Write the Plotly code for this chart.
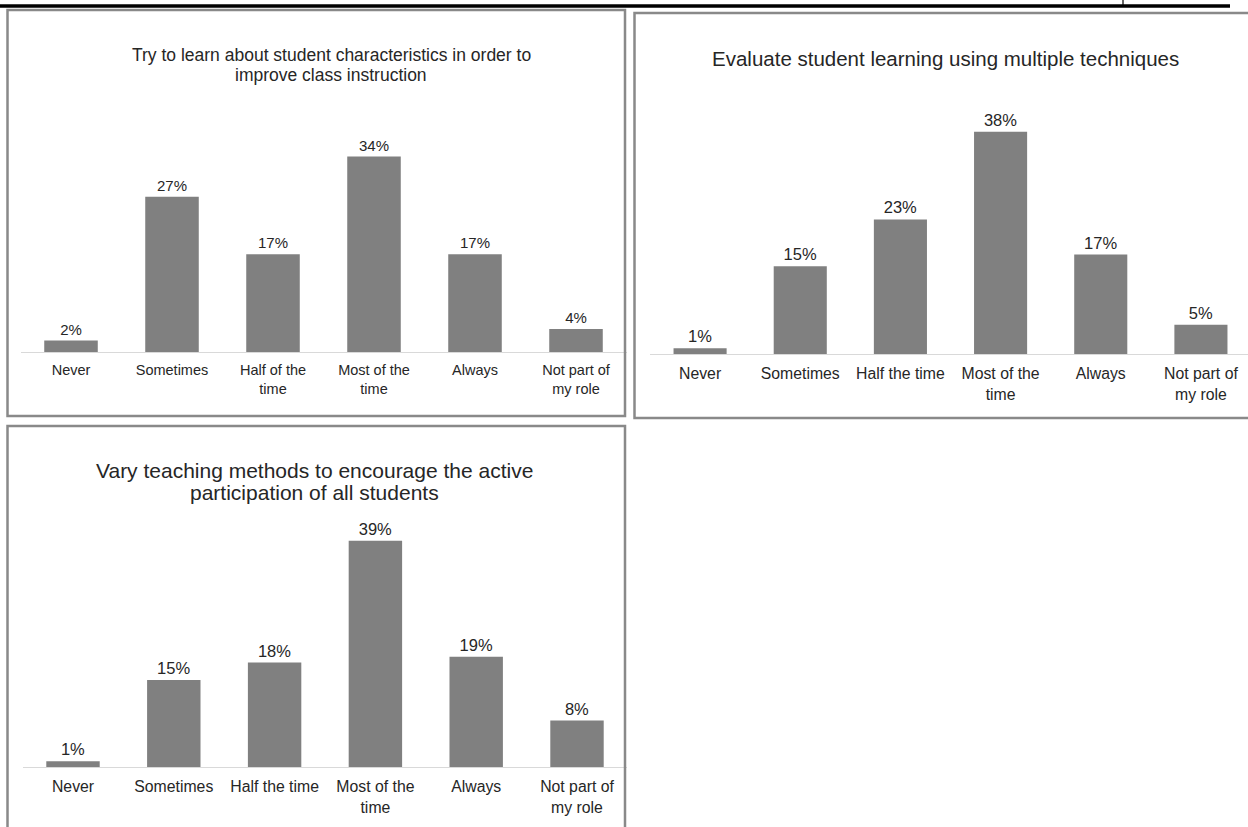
import plotly.graph_objects as go

W, H = 1248, 827
FONT = "Liberation Sans, Arial, sans-serif"

# ---- data ----
cats1 = ["Never", "Sometimes", "Half of the<br>time", "Most of the<br>time", "Always", "Not part of<br>my role"]
vals1 = [2, 27, 17, 34, 17, 4]
title1 = ["Try to learn about student characteristics in order to", "improve class instruction"]

cats2 = ["Never", "Sometimes", "Half the time", "Most of the<br>time", "Always", "Not part of<br>my role"]
vals2 = [1, 15, 23, 38, 17, 5]
title2 = ["Evaluate student learning using multiple techniques"]

cats3 = ["Never", "Sometimes", "Half the time", "Most of the<br>time", "Always", "Not part of<br>my role"]
vals3 = [1, 15, 18, 39, 19, 8]
title3 = ["Vary teaching methods to encourage the active", "participation of all students"]

BAR = "#808080"
TXT = "#262626"


def px_x(x):
    return x / W


def px_y(y):
    return 1 - y / H


fig = go.Figure()

panels = [
    dict(c=cats1, v=vals1, t=title1, x0=20.5, x1=626.5, xhi=5.5, base=352, top=122,
         ty=[55, 75], tf=14.5, lf=15, tif=17.5, tx=331, sd=5),
    dict(c=cats2, v=vals2, t=title2, x0=650, x1=1248, xhi=5.47, base=354, top=120,
         ty=[58], tf=15.8, lf=16.5, tif=20.5, tx=945, sd=5),
    dict(c=cats3, v=vals3, t=title3, x0=22.6, x1=627.4, xhi=5.5, base=767, top=535,
         ty=[470, 492], tf=15.8, lf=16.5, tif=21, tx=314, sd=5),
]

for i, p in enumerate(panels, start=1):
    xa = "x" if i == 1 else f"x{i}"
    ya = "y" if i == 1 else f"y{i}"
    fig.add_trace(go.Bar(
        x=p["c"], y=p["v"], xaxis=xa, yaxis=ya,
        marker=dict(color=BAR, line=dict(width=0)),
        width=0.53,
        texttemplate="%{y}%", textposition="outside", cliponaxis=False,
        constraintext="none",
        textfont=dict(family=FONT, size=p["lf"], color=TXT),
        hoverinfo="skip", showlegend=False,
    ))
    sfx = "" if i == 1 else str(i)
    fig.update_layout(**{
        f"xaxis{sfx}": dict(
            domain=[px_x(p["x0"]), px_x(p["x1"])], anchor=ya,
            type="category", range=[-0.5, p["xhi"]],
            showline=True, linecolor="#d9d9d9", linewidth=1,
            showgrid=False, zeroline=False, ticks="",
            tickfont=dict(family=FONT, size=p["tf"], color=TXT),
            ticklabelstandoff=p["sd"], fixedrange=True,
        ),
        f"yaxis{sfx}": dict(
            domain=[px_y(p["base"]), px_y(p["top"])], anchor=xa,
            range=[0, 40], visible=False, showgrid=False, fixedrange=True,
        ),
    })
    for line, yy in zip(p["t"], p["ty"]):
        fig.add_annotation(
            text=line, xref="paper", yref="paper", x=px_x(p["tx"]), y=px_y(yy),
            xanchor="center", yanchor="middle", showarrow=False,
            font=dict(family=FONT, size=p["tif"], color=TXT), align="center",
        )

# panel borders
BORDER = "#898989"
for (x0, y0, x1, y1) in [(7.5, 10, 625, 416), (634.5, 13, 1252, 418), (7.5, 426, 625, 832)]:
    fig.add_shape(type="rect", xref="paper", yref="paper",
                  x0=px_x(x0), x1=px_x(x1), y0=px_y(y1), y1=px_y(y0),
                  line=dict(color=BORDER, width=2.5), fillcolor="rgba(0,0,0,0)", layer="above")

# top rule of the page
fig.add_shape(type="line", xref="paper", yref="paper", x0=0, x1=px_x(1230), y0=px_y(6), y1=px_y(6),
              line=dict(color="black", width=3.5))
fig.add_shape(type="line", xref="paper", yref="paper", x0=px_x(1123), x1=px_x(1123), y0=px_y(6), y1=1,
              line=dict(color="black", width=1.2))

fig.update_layout(
    width=W, height=H, margin=dict(l=0, r=0, t=0, b=0),
    paper_bgcolor="white", plot_bgcolor="white",
    bargap=0.47, showlegend=False,
    font=dict(family=FONT, color=TXT),
)

fig.write_html("out.html", config={"displayModeBar": False})
